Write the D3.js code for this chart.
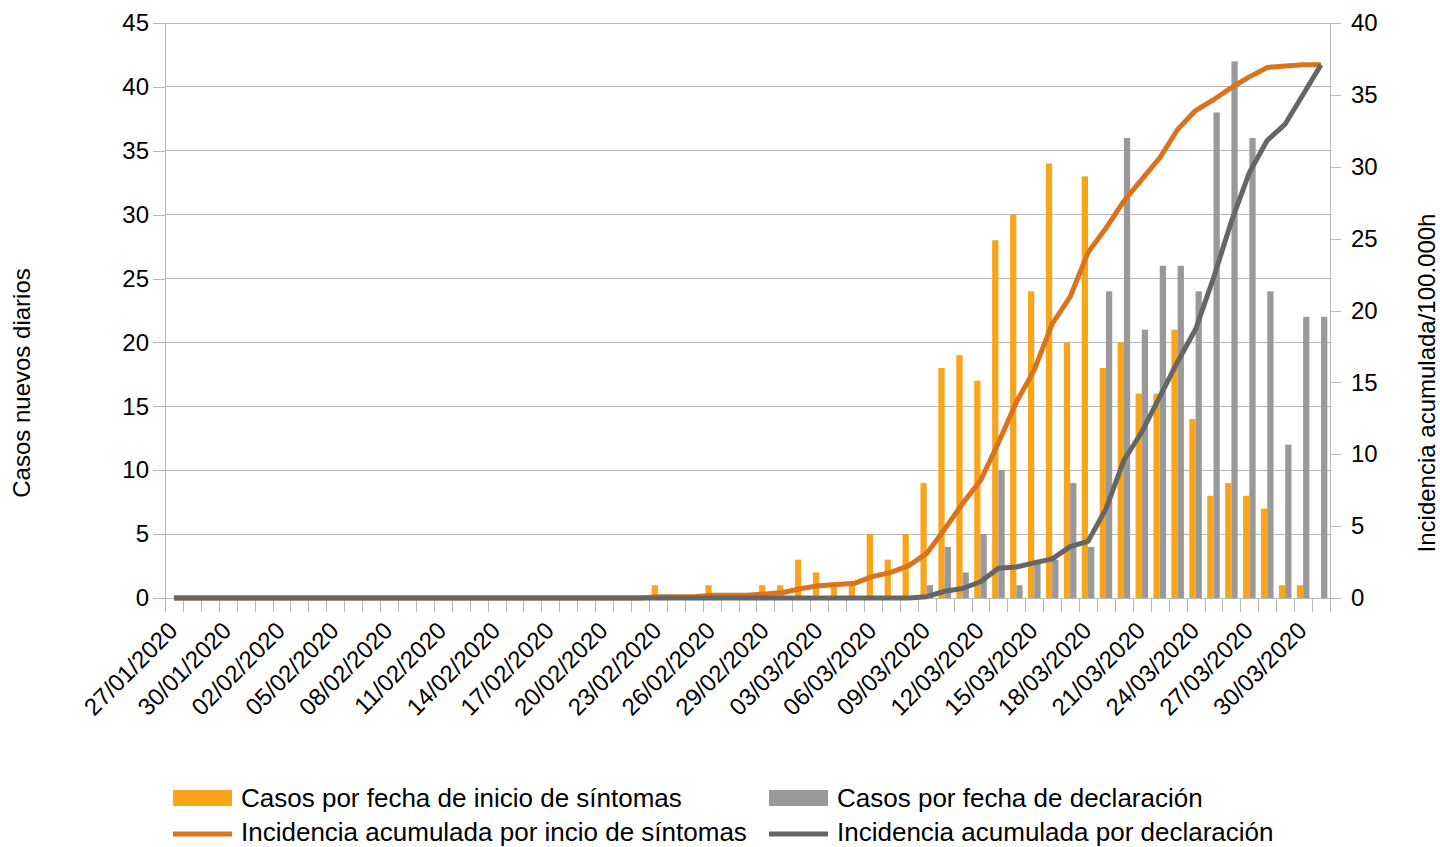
<!DOCTYPE html>
<html><head><meta charset="utf-8">
<script src="https://cdn.jsdelivr.net/npm/d3@7"></script>
<style>
html,body{margin:0;padding:0;background:#fff;}
svg{display:block;font-family:"Liberation Sans",Arial,sans-serif;}
</style></head>
<body><svg id="c" width="1440" height="847"></svg>
<script>
const fechas = [
 "27/01/2020","28/01/2020","29/01/2020","30/01/2020","31/01/2020",
 "01/02/2020","02/02/2020","03/02/2020","04/02/2020","05/02/2020","06/02/2020","07/02/2020","08/02/2020","09/02/2020","10/02/2020",
 "11/02/2020","12/02/2020","13/02/2020","14/02/2020","15/02/2020","16/02/2020","17/02/2020","18/02/2020","19/02/2020","20/02/2020",
 "21/02/2020","22/02/2020","23/02/2020","24/02/2020","25/02/2020","26/02/2020","27/02/2020","28/02/2020","29/02/2020",
 "01/03/2020","02/03/2020","03/03/2020","04/03/2020","05/03/2020","06/03/2020","07/03/2020","08/03/2020","09/03/2020","10/03/2020",
 "11/03/2020","12/03/2020","13/03/2020","14/03/2020","15/03/2020","16/03/2020","17/03/2020","18/03/2020","19/03/2020","20/03/2020",
 "21/03/2020","22/03/2020","23/03/2020","24/03/2020","25/03/2020","26/03/2020","27/03/2020","28/03/2020","29/03/2020","30/03/2020","31/03/2020"
];
const casosInicio = [
 0,0,0,0,0,0,0,0,0,0,
 0,0,0,0,0,0,0,0,0,0,
 0,0,0,0,0,0,0,1,0,0,
 1,0,0,1,1,3,2,1,1,5,
 3,5,9,18,19,17,28,30,24,34,
 20,33,18,20,16,16,21,14,8,9,
 8,7,1,1,0
];
const casosDeclaracion = [
 0,0,0,0,0,0,0,0,0,0,
 0,0,0,0,0,0,0,0,0,0,
 0,0,0,0,0,0,0,0,0,0,
 0,0,0,0,0,0,0,0,0,0,
 0,0,1,4,2,5,10,1,3,3,
 9,4,24,36,21,26,26,24,38,42,
 36,24,12,22,22
];
const incInicio = [
 0,0,0,0,0,0,0,0,0,0,
 0,0,0,0,0,0,0,0,0,0,
 0,0,0,0,0,0,0,0.09,0.09,0.09,
 0.19,0.19,0.19,0.28,0.38,0.66,0.85,0.94,1.03,1.50,
 1.78,2.25,3.10,4.79,6.57,8.17,10.80,13.62,15.87,19.07,
 20.94,24.04,25.73,27.61,29.12,30.62,32.59,33.91,34.66,35.50,
 36.25,36.91,37.01,37.10,37.10
];
const incDeclaracion = [
 0,0,0,0,0,0,0,0,0,0,
 0,0,0,0,0,0,0,0,0,0,
 0,0,0,0,0,0,0,0,0,0,
 0,0,0,0,0,0,0,0,0,0,
 0,0,0.09,0.47,0.66,1.13,2.07,2.16,2.44,2.72,
 3.57,3.94,6.20,9.58,11.55,13.99,16.44,18.69,22.26,26.20,
 29.59,31.84,32.97,35.03,37.10
];
const leftTicks = [0,5,10,15,20,25,30,35,40,45];
const rightTicks = [0,5,10,15,20,25,30,35,40];
const seriesNames = ["Casos por fecha de inicio de síntomas","Casos por fecha de declaración",
  "Incidencia acumulada por incio de síntomas","Incidencia acumulada por declaración"];
const colors = {barO:"#f9a51b", barG:"#999999", lineO:"#da731b", lineG:"#666666", grid:"#b8b8b8"};

const svg = d3.select("#c");
const L = 165, R = 1330, T = 23, B = 598;
const x = d3.scaleBand().domain(fechas).range([L,R]).paddingInner(0.3).paddingOuter(0.15);
const xs = d3.scaleBand().domain(["o","g"]).range([0,x.bandwidth()]);
const xb = d3.scaleLinear().domain([0,fechas.length]).range([L,R]);
const yL = d3.scaleLinear().domain([0,45]).range([B,T]);
const yR = d3.scaleLinear().domain([0,40]).range([B,T]);
const fs = 24;

// gridlines
svg.append("g").selectAll("line").data(leftTicks).join("line")
  .attr("x1",L).attr("x2",R).attr("y1",d=>yL(d)).attr("y2",d=>yL(d))
  .attr("stroke",colors.grid).attr("stroke-width",1).attr("shape-rendering","crispEdges");

// left axis
const gl = svg.append("g").attr("transform",`translate(${L},0)`)
  .call(d3.axisLeft(yL).tickValues(leftTicks).tickSize(12).tickPadding(4));
gl.select(".domain").remove();
gl.append("line").attr("x1",0).attr("x2",0).attr("y1",T).attr("y2",B+14);
// right axis
const gr = svg.append("g").attr("transform",`translate(${R},0)`)
  .call(d3.axisRight(yR).tickValues(rightTicks).tickSize(11).tickPadding(10));
gr.select(".domain").remove();
gr.append("line").attr("x1",0).attr("x2",0).attr("y1",T).attr("y2",B+14);
// bottom ticks at category boundaries
const gb = svg.append("g").attr("transform",`translate(0,${B})`)
  .call(d3.axisBottom(xb).tickValues(d3.range(fechas.length+1)).tickSize(14).tickFormat(""));
gb.select(".domain").attr("d",`M${L},0.5H${R}`);
[gl,gr,gb].forEach(g=>{
  g.selectAll("line").attr("stroke",colors.grid).attr("shape-rendering","crispEdges");
  g.selectAll(".domain").attr("stroke",colors.grid);
  g.selectAll("text").attr("font-size",fs).attr("fill","#000").attr("font-family","Liberation Sans, Arial, sans-serif");
});

// bars
svg.append("g").selectAll("rect").data(casosInicio).join("rect")
  .attr("x",(d,i)=>x(fechas[i])+xs("o")).attr("width",xs.bandwidth())
  .attr("y",d=>yL(d)).attr("height",d=>B-yL(d)).attr("fill",colors.barO);
svg.append("g").selectAll("rect").data(casosDeclaracion).join("rect")
  .attr("x",(d,i)=>x(fechas[i])+xs("g")).attr("width",xs.bandwidth())
  .attr("y",d=>yL(d)).attr("height",d=>B-yL(d)).attr("fill",colors.barG);

// lines
const line = d3.line().x((d,i)=>x(fechas[i])+x.bandwidth()/2).y(d=>yR(d));
svg.append("path").datum(incInicio).attr("d",line).attr("fill","none")
  .attr("stroke",colors.lineO).attr("stroke-width",5).attr("stroke-linejoin","round");
svg.append("path").datum(incDeclaracion).attr("d",line).attr("fill","none")
  .attr("stroke",colors.lineG).attr("stroke-width",5).attr("stroke-linejoin","round");

// x labels
svg.append("g").selectAll("text").data(fechas.filter((d,i)=>i%3===0)).join("text")
  .attr("transform",d=>`translate(${x(d)+x.bandwidth()/2+5},${B+34}) rotate(-45)`)
  .attr("text-anchor","end").attr("font-size",fs).attr("fill","#000").text(d=>d);

// axis titles
svg.append("text").attr("transform","translate(30,383) rotate(-90)").attr("text-anchor","middle")
  .attr("font-size",fs).attr("fill","#000").text("Casos nuevos diarios");
svg.append("text").attr("transform","translate(1435,383) rotate(-90)").attr("text-anchor","middle")
  .attr("font-size",fs).attr("fill","#000").text("Incidencia acumulada/100.000h");

// legend
const leg = [
  {t:seriesNames[0], type:"rect", c:colors.barO, x:173, y:798, ty:807},
  {t:seriesNames[1], type:"rect", c:colors.barG, x:769, y:798, ty:807},
  {t:seriesNames[2], type:"line", c:colors.lineO, x:173, y:834, ty:841},
  {t:seriesNames[3], type:"line", c:colors.lineG, x:769, y:834, ty:841}
];
const lg = svg.append("g");
leg.forEach(d=>{
  if(d.type==="rect") lg.append("rect").attr("x",d.x).attr("y",d.y-8).attr("width",59).attr("height",16).attr("fill",d.c);
  else lg.append("line").attr("x1",d.x).attr("x2",d.x+59).attr("y1",d.y).attr("y2",d.y).attr("stroke",d.c).attr("stroke-width",5);
  lg.append("text").attr("x",d.x+68).attr("y",d.ty).attr("font-size",26).attr("fill","#000").text(d.t);
});
</script></body></html>
